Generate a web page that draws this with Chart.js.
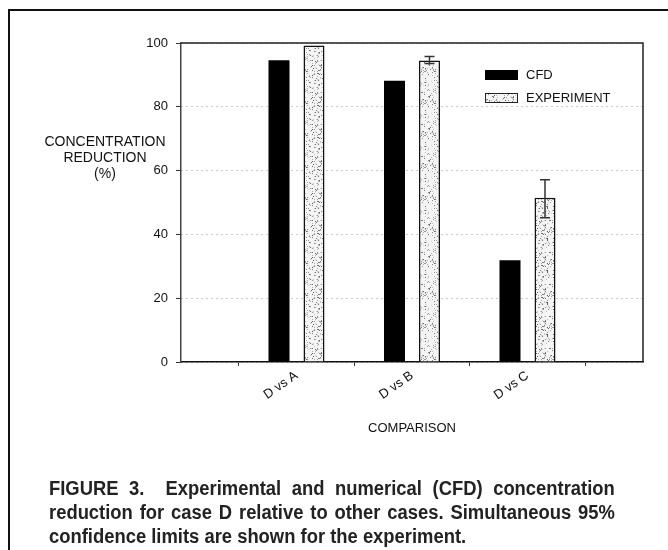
<!DOCTYPE html>
<html>
<head>
<meta charset="utf-8">
<script src="https://cdn.jsdelivr.net/npm/chart.js@4.4.1/dist/chart.umd.min.js"></script>
<style>
  html, body { margin: 0; padding: 0; background: #fff; }
  #wrap { position: relative; width: 668px; height: 550px; overflow: hidden; }
  #myChart { position: absolute; left: 0; top: 0; }
  #frameTop { position: absolute; left: 8px; top: 9px; width: 660px; height: 2px; background: #111; }
  #frameLeft { position: absolute; left: 8px; top: 9px; width: 2px; height: 541px; background: #111; }
  #yLabel {
    position: absolute; left: 35px; top: 133px; width: 140px;
    font: 14px "Liberation Sans", Arial, sans-serif; line-height: 16px;
    text-align: center; color: #111;
  }
  /* font narrow tidak ada, jadi sedikit dipersempit dengan scaleX */
  #caption {
    position: absolute; left: 49px; top: 476px; width: 615px;
    transform: scaleX(0.92); transform-origin: 0 0;
    font: bold 20px "Liberation Sans", Arial, sans-serif;
    line-height: 24px; color: #222;
  }
  #caption span { display: block; white-space: nowrap; text-align: justify; text-align-last: justify; }
  #caption span.last { text-align-last: left; }
</style>
</head>
<body>
<div id="wrap">
  <div id="frameTop"></div>
  <div id="frameLeft"></div>
  <canvas id="myChart" width="668" height="550"></canvas>
  <div id="yLabel">CONCENTRATION<br>REDUCTION<br>(%)</div>
  <div id="caption">
    <span>FIGURE 3.&nbsp; Experimental and numerical (CFD) concentration</span>
    <span>reduction for case D relative to other cases. Simultaneous 95%</span>
    <span class="last">confidence limits are shown for the experiment.</span>
  </div>
</div>
<script>
// data
const categories = ['D vs A', 'D vs B', 'D vs C'];
const cfdValues = [94.6, 88.2, 31.9];
const expValues = [99.2, 94.5, 51.5];
const expLow = [null, 93.6, 45.2];
const expHigh = [null, 95.8, 57.1];
const yTicks = [0, 20, 40, 60, 80, 100];

// kategori kosong di kiri dan kanan supaya tick jatuh di 1, 2, 3
const labels = [''].concat(categories, ['']);
const pad = arr => [null].concat(arr, [null]);

// pola bintik untuk batang EXPERIMENT
function makeStipple() {
  const c = document.createElement('canvas');
  c.width = 32; c.height = 32;
  const g = c.getContext('2d');
  g.fillStyle = '#f4f4f4';
  g.fillRect(0, 0, 32, 32);
  let seed = 7;
  const next = () => { seed = (seed * 1103515245 + 12345) % 2147483648; return seed / 2147483648; };
  for (let i = 0; i < 170; i++) {
    const x = Math.floor(next() * 32);
    const y = Math.floor(next() * 32);
    const shade = Math.floor(90 + next() * 130);
    g.fillStyle = `rgb(${shade},${shade},${shade})`;
    g.fillRect(x, y, 1, 1);
  }
  return g.createPattern(c, 'repeat');
}

const ctx = document.getElementById('myChart').getContext('2d');
const stipple = makeStipple();

const errorBars = {
  id: 'errorBars',
  afterDatasetsDraw(chart) {
    const meta = chart.getDatasetMeta(1);
    const y = chart.scales.y;
    const c = chart.ctx;
    c.save();
    c.strokeStyle = '#333';
    c.lineWidth = 1.5;
    expLow.forEach((lo, i) => {
      if (lo === null) return;
      const bar = meta.data[i + 1];
      const yl = y.getPixelForValue(lo);
      const yh = y.getPixelForValue(expHigh[i]);
      c.beginPath();
      c.moveTo(bar.x, yl); c.lineTo(bar.x, yh);
      c.moveTo(bar.x - 5, yl); c.lineTo(bar.x + 5, yl);
      c.moveTo(bar.x - 5, yh); c.lineTo(bar.x + 5, yh);
      c.stroke();
    });
    c.restore();
  }
};

// garis bingkai atas dan kanan plot, plus legenda di dalam plot
const plotFrame = {
  id: 'plotFrame',
  afterDraw(chart) {
    const a = chart.chartArea;
    const c = chart.ctx;
    c.save();
    c.strokeStyle = '#222';
    c.lineWidth = 1.5;
    c.beginPath();
    c.moveTo(a.left, a.top); c.lineTo(a.right, a.top); c.lineTo(a.right, a.bottom);
    c.stroke();

    const lx = 485, ly = 70;
    chart.data.datasets.forEach((ds, i) => {
      const top = ly + i * 23;
      c.fillStyle = ds.backgroundColor;
      c.fillRect(lx, top, 33, 10);
      if (ds.borderWidth) {
        c.lineWidth = 1;
        c.strokeStyle = '#222';
        c.strokeRect(lx + 0.5, top + 0.5, 32, 9);
      }
      c.fillStyle = '#111';
      c.font = '13px "Liberation Sans", Arial, sans-serif';
      c.textBaseline = 'middle';
      c.fillText(ds.label, lx + 41, top + 5.5);
    });
    c.restore();
  }
};

Chart.defaults.font.family = '"Liberation Sans", Arial, sans-serif';
Chart.defaults.color = '#111';

new Chart(ctx, {
  type: 'bar',
  data: {
    labels: labels,
    datasets: [{
      label: 'CFD',
      data: pad(cfdValues),
      backgroundColor: '#000',
      borderWidth: 0
    }, {
      label: 'EXPERIMENT',
      data: pad(expValues),
      backgroundColor: stipple,
      borderColor: '#111',
      borderWidth: 1.5
    }]
  },
  options: {
    responsive: false,
    animation: false,
    categoryPercentage: 0.606,
    barPercentage: 0.6,
    layout: { padding: { top: 43, right: 25, left: 0, bottom: 110 } },
    plugins: {
      legend: { display: false },
      tooltip: { enabled: false }
    },
    scales: {
      x: {
        offset: false,
        grid: { drawOnChartArea: false, drawTicks: true, tickLength: 4, tickColor: '#333' },
        border: { color: '#111', width: 1.5 },
        ticks: { maxRotation: 35, minRotation: 35, font: { size: 13 }, padding: 2 },
        title: { display: true, text: 'COMPARISON', font: { size: 13 }, padding: { top: 4, bottom: 4 } },
        afterFit(scale) { scale.height = 78; }
      },
      y: {
        min: 0,
        max: 100,
        afterBuildTicks(scale) { scale.ticks = yTicks.map(v => ({ value: v })); },
        grid: { color: '#9a9a9a', tickColor: '#333', tickLength: 5, lineWidth: 1 },
        border: { color: '#444', width: 1.5, dash: [1, 4] },
        ticks: { font: { size: 13 }, padding: 8 },
        afterFit(scale) { scale.width = 181; }
      }
    }
  },
  plugins: [errorBars, plotFrame]
});
</script>
</body>
</html>
